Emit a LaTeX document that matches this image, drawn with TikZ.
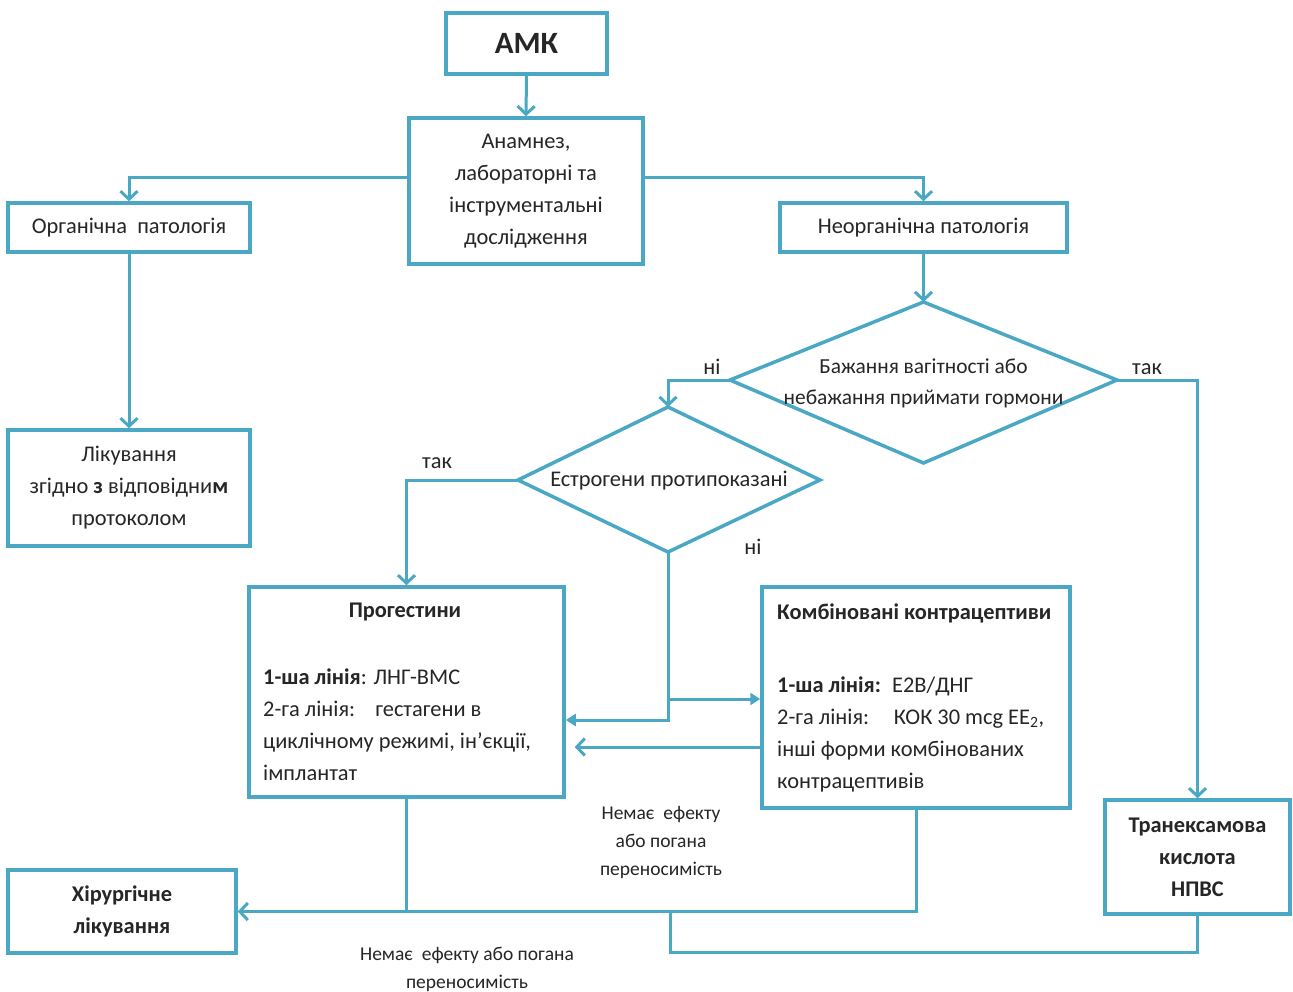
\documentclass[tikz,border=0pt]{standalone}
\usepackage{fontspec}
\setmainfont{Carlito}
\usetikzlibrary{arrows.meta}
\definecolor{ln}{RGB}{75,168,196}
\definecolor{tx}{RGB}{38,38,38}
\tikzset{
  box/.style={draw=ln, line width=3.5pt, fill=white, text=tx, align=center, inner sep=0pt},
  con/.style={draw=ln, line width=3pt},
  arr/.style={con, -{Straight Barb[length=8pt,width=17pt,line width=3pt]}},
  arrf/.style={con, -{Triangle[length=10pt,width=12pt]}},
  dia/.style={draw=ln, line width=3.5pt, line join=miter, fill=white},
  txt/.style={text=tx, inner sep=0pt, font=\fontsize{22.4}{32}\selectfont},
  lbl/.style={text=tx, inner sep=0pt, align=center, font=\fontsize{19.5}{28}\selectfont},
}
\begin{document}
\begin{tikzpicture}[x=1pt,y=-1pt]
\useasboundingbox[fill=white] (0,0) rectangle (1293,992);

% boxes
\node[box, minimum width=161pt, minimum height=61pt] (amk) at (526.5,43.5) {\fontsize{31}{36}\selectfont\bfseries АМК};
\node[box, txt, align=center, minimum width=234pt, minimum height=146pt] (anam) at (526,191)
  {Анамнез,\\лабораторні та\\інструментальні\\дослідження};
\node[box, txt, align=center, minimum width=242pt, minimum height=49pt] (org) at (129,227.5) {Органічна\ \ патологія};
\node[box, txt, align=center, minimum width=287pt, minimum height=49pt] (neorg) at (923.5,227.5) {Неорганічна патологія};
\node[box, txt, align=center, minimum width=242pt, minimum height=116pt] (likuv) at (129,488)
  {Лікування\\згідно \textbf{з} відповідни\textbf{м}\\протоколом};
\node[box, minimum width=315pt, minimum height=210pt] (prog) at (406.5,692) {};
\node[box, minimum width=308pt, minimum height=221pt] (komb) at (916,697.5) {};
\node[box, txt, align=center, minimum width=185pt, minimum height=114pt] (tran) at (1197.5,857)
  {\textbf{Транексамова}\\\textbf{кислота}\\\textbf{НПВС}};
\node[box, txt, align=center, minimum width=228pt, minimum height=83pt] (hir) at (122,911.5)
  {\textbf{Хірургічне}\\\textbf{лікування}};

% box texts
\node[txt, font=\fontsize{22.4}{32}\selectfont\bfseries] (progt) at (405,612) {Прогестини};
\node[txt, anchor=west, align=left] (progb) at (263,725)
  {\textbf{1-ша лінія}: ЛНГ-ВМС\\2-га лінія:\hspace{0.9em}гестагени в\\циклічному режимі, ін’єкції,\\імплантат};
\node[txt, anchor=west, font=\fontsize{22.4}{32}\selectfont\bfseries] (kombt) at (777,613) {Комбіновані контрацептиви};
\node[txt, anchor=west, align=left] (kombb) at (777,734.5)
  {\textbf{1-ша лінія:}\hspace{0.5em}Е2В/ДНГ\\2-га лінія:\hspace{1.1em}КОК 30 mcg EE\textsubscript{2},\\інші форми комбінованих\\контрацептивів};

% diamonds
\coordinate (d1t) at (923.5,302);
\coordinate (d1l) at (730,380);
\coordinate (d1r) at (1117,380);
\coordinate (d1b) at (923.5,463);
\draw[dia] (d1t) -- (d1r) -- (d1b) -- (d1l) -- cycle;
\node[txt, align=center, font=\fontsize{21.4}{31}\selectfont] (d1) at (923.5,383) {Бажання вагітності або\\небажання приймати гормони};

\coordinate (d2t) at (668,407);
\coordinate (d2l) at (518,480);
\coordinate (d2r) at (820,480);
\coordinate (d2b) at (668,552);
\draw[dia] (d2t) -- (d2r) -- (d2b) -- (d2l) -- cycle;
\node[txt] (d2) at (669,481) {Естрогени протипоказані};

% connectors
\draw[arr] (amk.south) -- (anam.north);
\draw[arr] ([yshift=13pt]anam.west) -| (org.north);
\draw[arr] ([yshift=13pt]anam.east) -| (neorg.north);
\draw[arr] (org.south) -- (likuv.north);
\draw[arr] (neorg.south) -- (d1t);
\draw[arr] (d1l) -| (d2t);
\draw[arr] (d1r) -| (tran.north);
\draw[arr] (d2l) -| (prog.north);
\coordinate (y720) at (0,720);
\coordinate (br) at (668,699);
\draw[arrf] (d2b) |- (prog.east |- y720);
\draw[arrf] (br) -- (br -| komb.west);
\coordinate (y747) at (0,747);
\path (prog.east) ++(9,0) coordinate (pe9);
\draw[arr] (komb.west |- y747) -- (pe9 |- y747);
\draw[con] (prog.south) -- (prog.south |- hir.east);
\draw[arr] (komb.south) |- (hir.east);
\coordinate (jb) at (670,952);
\draw[con] (tran.south) |- (jb) -- (jb |- hir.east);

% labels
\node[txt] (l1) at (712,367) {ні};
\node[txt] (l2) at (1147,369) {так};
\node[txt] (l3) at (437,463) {так};
\node[txt] (l4) at (753,547) {ні};
\node[lbl] (l5) at (661,842) {Немає\ \ ефекту\\або погана\\переносимість};
\node[lbl] (l6) at (467,969) {Немає\ \ ефекту або погана\\переносимість};
\end{tikzpicture}
\end{document}
